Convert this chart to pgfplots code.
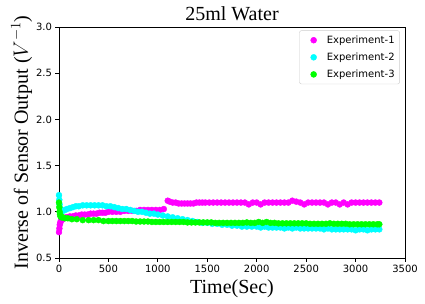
\documentclass[border=0pt]{standalone}
\usepackage{fontspec}
\setmainfont{Liberation Serif}
\newfontfamily\dejavu{DejaVu Sans}
\usepackage{pgfplots}
\pgfplotsset{compat=1.18}
\definecolor{cmag}{RGB}{255,0,255}
\definecolor{ccyan}{RGB}{0,255,255}
\definecolor{clime}{RGB}{0,255,0}
\begin{document}
\begin{tikzpicture}
\begin{axis}[
  scale only axis, width=346pt, height=231pt,
  xmin=0, xmax=3500, ymin=0.5, ymax=3.0,
  xtick={0,500,...,3500}, ytick={0.5,1.0,...,3.0},
  yticklabel style={/pgf/number format/.cd,fixed,fixed zerofill,precision=1},
  xticklabel style={/pgf/number format/.cd,1000 sep={}},
  /pgf/number format/assume math mode=true,
  scaled x ticks=false,
  ticklabel style={font=\dejavu\fontsize{10}{12}\selectfont},
  tick align=outside, major tick length=3.5pt,
  every tick/.style={black, line width=0.8pt},
  axis line style={line width=0.8pt},
  xtick pos=bottom, ytick pos=left,
  title={25ml Water},
  every axis title shift=0pt,
  title style={font=\fontsize{20}{24}\selectfont, at={(0.5,1)}, anchor=base, yshift=6pt},
  xlabel={Time(Sec)},
  xlabel style={font=\fontsize{20}{24}\selectfont, at={(0.5,0)}, anchor=base, yshift=-35pt},
  ylabel={Inverse of Sensor Output ($V^{-1}$)},
  every axis y label/.style={at={(0,0.5)}, rotate=90, anchor=base, yshift=31pt, font=\fontsize{20}{24}\selectfont},
  legend style={at={(0.985,0.985)}, anchor=north east, draw=black!20, rounded corners=2pt,
    font=\dejavu\fontsize{10}{12}\selectfont, row sep=4pt, inner xsep=3pt, inner ysep=3pt},
  legend image code/.code={\path (0pt,0pt) (22pt,0pt); \draw[#1] plot coordinates {(11pt,0pt)};},
  legend cell align=left,
  clip mode=global,
]
\addplot[cmag, only marks, mark=*, mark size=3pt, mark options={draw=cmag, fill=cmag}] coordinates {
(0,0.78)(4,0.82)(8,0.86)(12,0.88)(18,0.90)(25,0.91)(35,0.92)(50,0.93)(70,0.94)(90,0.94)
(110,0.95)(140,0.95)(170,0.96)(200,0.96)(230,0.97)(260,0.97)(290,0.97)(320,0.98)(350,0.98)(380,0.98)
(410,0.99)(440,0.99)(470,0.99)(500,1.00)(540,1.00)(580,1.00)(620,1.00)(660,1.01)(700,1.01)(740,1.01)
(780,1.01)(820,1.02)(860,1.02)(900,1.02)(940,1.02)(980,1.02)(1020,1.02)(1060,1.03)
(1100,1.12)(1120,1.11)(1150,1.10)(1180,1.10)(1210,1.09)(1240,1.09)(1270,1.09)(1300,1.09)(1330,1.09)(1360,1.09)
(1390,1.10)(1420,1.10)(1450,1.10)(1480,1.10)(1520,1.10)(1560,1.10)(1600,1.10)(1640,1.10)(1680,1.10)(1720,1.10)
(1760,1.10)(1800,1.10)(1840,1.10)(1880,1.10)(1920,1.08)(1960,1.10)(2000,1.10)(2040,1.08)(2080,1.10)(2120,1.10)
(2160,1.10)(2200,1.10)(2240,1.10)(2280,1.10)(2320,1.10)(2360,1.12)(2400,1.11)(2440,1.10)(2480,1.08)(2520,1.10)
(2560,1.10)(2600,1.10)(2640,1.10)(2680,1.10)(2720,1.08)(2760,1.10)(2800,1.10)(2840,1.08)(2880,1.10)(2920,1.08)
(2960,1.10)(3000,1.10)(3040,1.10)(3080,1.10)(3120,1.10)(3160,1.10)(3200,1.10)(3240,1.10)
};
\addlegendentry{Experiment-1}
\addplot[ccyan, only marks, mark=*, mark size=3pt, mark options={draw=ccyan, fill=ccyan}] coordinates {
(0,1.18)(3,1.13)(6,1.08)(10,1.04)(15,1.01)(25,1.00)(40,1.01)(60,1.02)(80,1.03)(110,1.04)
(140,1.05)(170,1.06)(200,1.06)(240,1.07)(280,1.07)(320,1.07)(360,1.07)(400,1.07)(440,1.07)(480,1.06)
(520,1.06)(560,1.05)(600,1.04)(640,1.03)(680,1.03)(720,1.02)(760,1.01)(800,1.00)(840,1.00)(880,0.99)
(920,0.98)(960,0.98)(1000,0.97)(1050,0.96)(1100,0.95)(1150,0.94)(1200,0.93)(1250,0.92)(1300,0.91)(1350,0.90)
(1400,0.89)(1450,0.88)(1500,0.88)(1550,0.87)(1600,0.87)(1650,0.86)(1700,0.86)(1750,0.85)(1800,0.85)(1850,0.84)
(1900,0.84)(1950,0.84)(2000,0.84)(2040,0.83)(2080,0.84)(2120,0.83)(2160,0.83)(2200,0.83)(2240,0.83)(2280,0.82)
(2320,0.83)(2360,0.82)(2400,0.83)(2440,0.82)(2480,0.82)(2520,0.82)(2560,0.82)(2600,0.82)(2640,0.82)(2680,0.81)
(2720,0.82)(2760,0.81)(2800,0.81)(2840,0.81)(2880,0.81)(2920,0.81)(2960,0.81)(3000,0.80)(3040,0.81)(3080,0.81)
(3120,0.80)(3160,0.81)(3200,0.81)(3240,0.81)
};
\addlegendentry{Experiment-2}
\addplot[clime, only marks, mark=*, mark size=3pt, mark options={draw=clime, fill=clime}] coordinates {
(0,1.10)(3,1.05)(6,1.00)(10,0.97)(15,0.95)(25,0.94)(40,0.94)(60,0.93)(90,0.93)(130,0.92)
(180,0.92)(240,0.91)(300,0.91)(350,0.91)(400,0.91)(450,0.90)(500,0.90)(540,0.90)(580,0.90)(620,0.90)
(660,0.90)(700,0.90)(740,0.90)(780,0.895)(820,0.895)(860,0.895)(900,0.895)(940,0.89)(980,0.89)(1020,0.89)
(1060,0.89)(1100,0.89)(1140,0.89)(1180,0.89)(1220,0.89)(1260,0.89)(1300,0.885)(1340,0.885)(1380,0.885)(1420,0.885)
(1460,0.885)(1500,0.885)(1540,0.885)(1580,0.88)(1620,0.88)(1660,0.88)(1700,0.88)(1740,0.88)(1780,0.88)(1820,0.88)
(1860,0.88)(1900,0.885)(1940,0.88)(1980,0.88)(2020,0.89)(2060,0.88)(2100,0.89)(2140,0.88)(2180,0.88)(2220,0.875)
(2260,0.875)(2300,0.875)(2340,0.875)(2380,0.875)(2420,0.875)(2460,0.875)(2500,0.875)(2540,0.87)(2580,0.87)(2620,0.87)
(2660,0.87)(2700,0.87)(2740,0.875)(2780,0.87)(2820,0.87)(2860,0.87)(2900,0.87)(2940,0.865)(2980,0.865)(3020,0.865)
(3060,0.865)(3100,0.865)(3140,0.865)(3180,0.865)(3220,0.865)(3240,0.865)
};
\addlegendentry{Experiment-3}
\end{axis}
\pgfresetboundingbox
\path[use as bounding box] (-59pt,-45pt) rectangle (366pt,258pt);
\end{tikzpicture}
\end{document}
